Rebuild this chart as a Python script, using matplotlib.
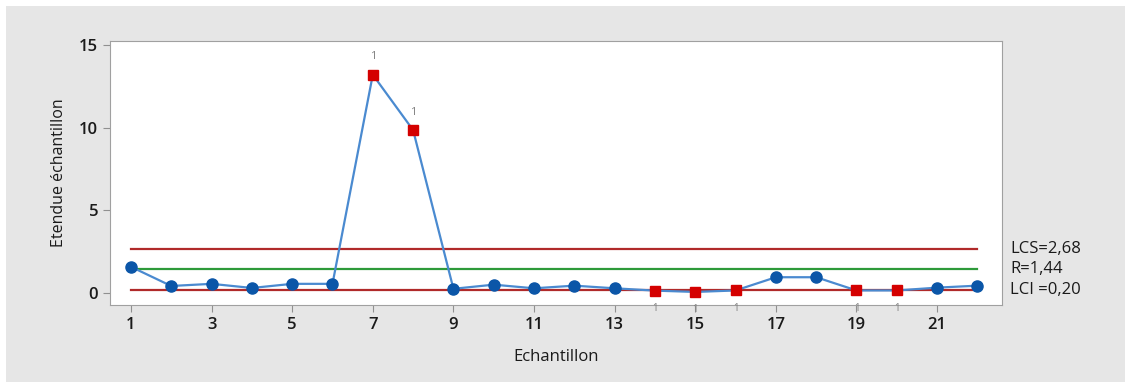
import matplotlib
matplotlib.use("Agg")
import matplotlib.pyplot as plt
from matplotlib.patches import Rectangle

# Data
samples = list(range(1, 23))
ranges = [1.58, 0.42, 0.55, 0.30, 0.55, 0.55, 13.2, 9.85, 0.25, 0.50, 0.28,
          0.44, 0.28, 0.14, 0.06, 0.15, 0.95, 0.95, 0.15, 0.15, 0.32, 0.44]
ucl, rbar, lcl = 2.68, 1.44, 0.20
flag_above = [7, 8]
flag_below = [14, 15, 16, 19, 20]
limit_labels = ["LCS=2,68", "R=1,44", "LCI =0,20"]

plt.rcParams['font.family'] = ['Open Sans', 'DejaVu Sans']

fig = plt.figure(figsize=(11.25, 3.85), dpi=100)
fig.patch.set_facecolor("white")
fig.patches.append(Rectangle((6 / 1125, 3 / 385), 1119 / 1125, 376 / 385,
                             transform=fig.transFigure, facecolor="#e6e6e6",
                             edgecolor="none", zorder=-1))
ax = fig.add_axes([110 / 1125, 1 - 305 / 385, 892 / 1125, 264 / 385])
ax.set_facecolor("white")

# limit lines
ax.plot([1, 22], [ucl, ucl], color="#b02a2a", lw=1.6, zorder=1)
ax.plot([1, 22], [rbar, rbar], color="#2e9a3a", lw=1.6, zorder=1)
ax.plot([1, 22], [lcl, lcl], color="#b02a2a", lw=1.6, zorder=1)

# series
ax.plot(samples, ranges, color="#4a8ad0", lw=1.6, zorder=2)
flagged = set(flag_above + flag_below)
bx = [s for s in samples if s not in flagged]
by = [ranges[s - 1] for s in bx]
ax.plot(bx, by, "o", color="#0b56a8", ms=8, zorder=3)
rx = sorted(flagged)
ry = [ranges[s - 1] for s in rx]
ax.plot(rx, ry, "s", color="#d40000", ms=7.5, zorder=3)

for s in flag_above:
    ax.annotate("1", (s, ranges[s - 1]), xytext=(0, 9), textcoords="offset points",
                ha="center", va="bottom", fontsize=8, color="#808080")
for s in flag_below:
    ax.annotate("1", (s, ranges[s - 1]), xytext=(0, -9), textcoords="offset points",
                ha="center", va="top", fontsize=7, color="#808080")

ax.set_xlim(0.48, 22.61)
ax.set_ylim(-0.73, 15.24)
ax.set_xticks(range(1, 22, 2))
ax.set_yticks([0, 5, 10, 15])
ax.tick_params(colors="#909090", labelcolor="#1a1a1a", labelsize=12, length=5)
for lab in ax.get_xticklabels() + ax.get_yticklabels():
    lab.set_fontweight("semibold")
for sp in ax.spines.values():
    sp.set_color("#a0a0a0")
ax.set_xlabel("Echantillon", fontsize=12, color="#1a1a1a", labelpad=12)
ax.set_ylabel("Etendue échantillon", fontsize=11.5, color="#1a1a1a", labelpad=9)

for lab, yv in zip(limit_labels, [ucl, rbar, lcl]):
    ax.annotate(lab, (22, yv), xytext=(1010, 0), textcoords=("figure pixels", "offset points"),
                ha="left", va="center", fontsize=12, color="#1a1a1a",
                annotation_clip=False)

fig.savefig("out.png", dpi=100)
